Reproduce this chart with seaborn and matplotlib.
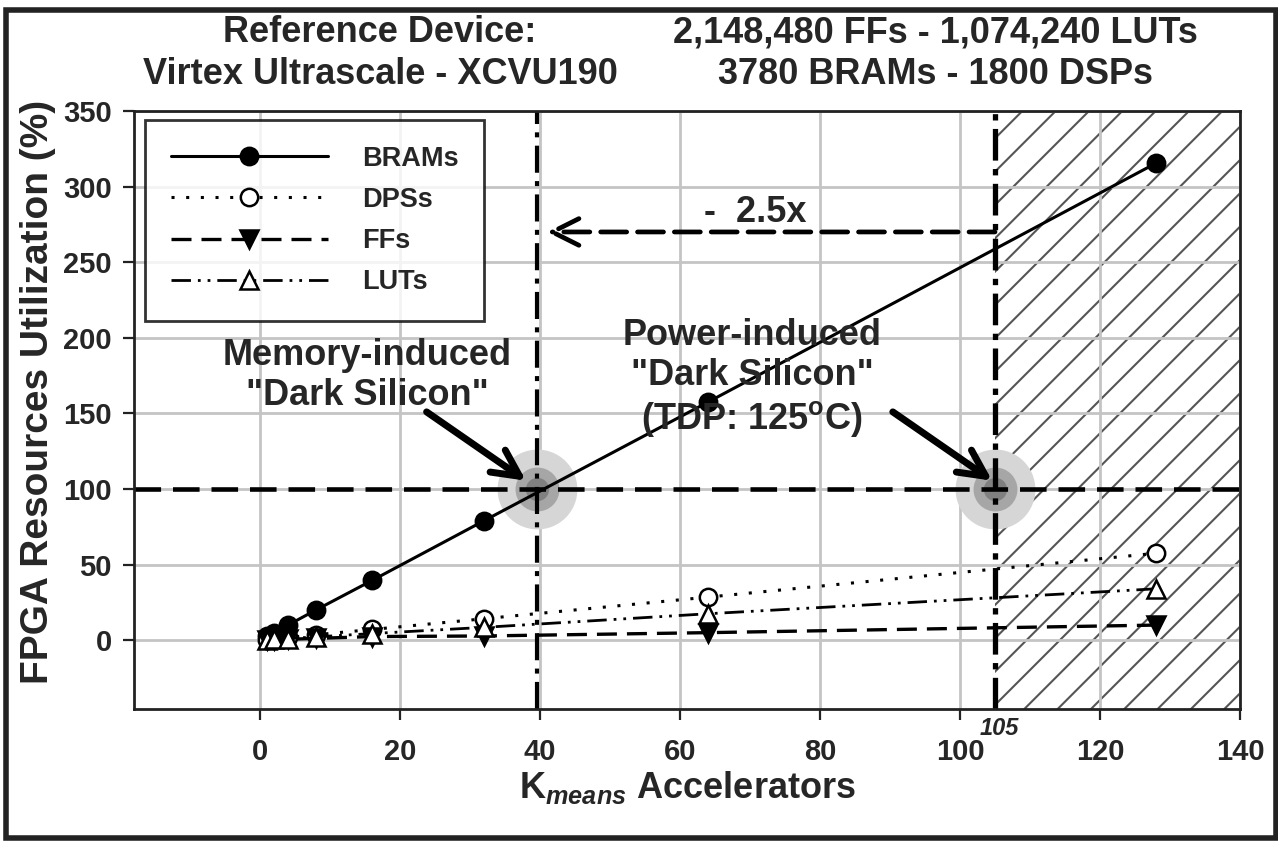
import numpy as np
import pandas as pd
import matplotlib
matplotlib.use("Agg")
import matplotlib.pyplot as plt
from matplotlib.patches import Rectangle
import seaborn as sns

# ---- data ----
accelerators = [1, 2, 4, 8, 16, 32, 64, 128]
brams = [2.5, 5, 10, 20, 39.5, 79, 157.5, 315.5]
dsps = [0.45, 0.9, 1.8, 3.6, 7.1, 14.2, 28.5, 57.5]
ffs = [0.15, 0.3, 0.6, 1.2, 2.4, 2.8, 5.0, 10]
luts = [0.3, 0.55, 1.1, 2.2, 4.4, 8.5, 17.5, 34]
series_names = ["BRAMs", "DPSs", "FFs", "LUTs"]
yticks = [0, 50, 100, 150, 200, 250, 300, 350]
xticks = [0, 20, 40, 60, 80, 100, 120, 140]

sns.set_style("ticks")
plt.rcParams["font.family"] = ["Liberation Sans", "DejaVu Sans"]
plt.rcParams["font.weight"] = "bold"
plt.rcParams["mathtext.fontset"] = "custom"
plt.rcParams["mathtext.rm"] = "Liberation Sans:bold"
plt.rcParams["mathtext.bf"] = "Liberation Sans:bold"
plt.rcParams["mathtext.it"] = "Liberation Sans:italic"
plt.rcParams["hatch.linewidth"] = 1.5

W, H = 1278, 844
fig = plt.figure(figsize=(W / 100, H / 100), dpi=100)
ax = fig.add_axes([134 / W, 1 - 709 / H, (1240 - 134) / W, (709 - 111) / H])

# grid
ax.set_axisbelow(True)
ax.grid(True, color="#c4c4c4", lw=2)

# hatched region (beyond power limit)
ax.axvspan(105, 140, facecolor="none", edgecolor="#555555", hatch="/", lw=0, zorder=0.5)

# glow spots
for xc in (39.6, 105):
    ax.scatter([xc], [100], s=3300, color="#d6d6d6", zorder=1, linewidths=0)
    ax.scatter([xc], [100], s=1000, color="#a6a6a6", zorder=1.1, linewidths=0)
    ax.scatter([xc], [100], s=280, color="#808080", zorder=1.2, linewidths=0)

# reference lines
ax.axhline(100, color="black", lw=3.3, linestyle=(0, (5.8, 2.6)), zorder=2)
ax.axvline(39.6, color="black", lw=3.0, linestyle=(0, (6.5, 2.0, 1.2, 2.0)), zorder=2)
ax.axvline(105, color="black", lw=3.8, linestyle=(0, (6, 1.6, 1.2, 1.6)), zorder=2)

styles = {
    "BRAMs": dict(linestyle="-", marker="o", markerfacecolor="black", lw=2.2),
    "DPSs": dict(linestyle=(0, (1, 3.8)), marker="o", markerfacecolor="white", lw=2.2),
    "FFs": dict(linestyle=(0, (6, 3)), marker="v", markerfacecolor="black", lw=2.4),
    "LUTs": dict(linestyle=(0, (7, 2.5, 1, 2.5, 1, 2.5)), marker="^", markerfacecolor="white", lw=2.0),
}
values = {"BRAMs": brams, "DPSs": dsps, "FFs": ffs, "LUTs": luts}
for name in series_names:
    st = styles[name]
    sns.lineplot(x=accelerators, y=values[name], ax=ax, color="black",
                 linestyle=st["linestyle"], lw=st["lw"], marker=st["marker"],
                 markersize=12.5, markerfacecolor=st["markerfacecolor"],
                 markeredgecolor="black", markeredgewidth=1.8,
                 label=name, zorder=3)

ax.set_xlim(-18, 140)
ax.set_ylim(-45.5, 350)
ax.set_xticks(xticks)
ax.set_yticks(yticks)
ax.tick_params(axis="both", direction="out", length=8, width=1.6, labelsize=21, color="#222")
ax.tick_params(axis="x", pad=13)
ax.tick_params(axis="y", pad=8)
for sp in ax.spines.values():
    sp.set_linewidth(2)
    sp.set_color("#222")

ax.set_xlabel(r"K$_{\mathit{means}}$ Accelerators", fontsize=26, fontweight="bold", labelpad=2)
ax.set_ylabel("FPGA Resources Utilization (%)", fontsize=28, fontweight="bold", labelpad=5, y=0.53)

leg = ax.legend(loc="upper left", bbox_to_anchor=(0.01, 0.985), fontsize=19.5,
                handlelength=5.8, handletextpad=1.25, labelspacing=0.56,
                borderpad=0.95, frameon=True, fancybox=False, numpoints=1,
                borderaxespad=0)
leg.get_frame().set_edgecolor("black")
leg.get_frame().set_linewidth(2)
for t in leg.get_texts():
    t.set_fontweight("bold")

# annotations
ax.annotate("", xy=(38.0, 105.5), xytext=(23.8, 151),
            arrowprops=dict(arrowstyle="->", lw=5, color="black", mutation_scale=48,
                            shrinkA=0, shrinkB=0), zorder=4)
ax.annotate("", xy=(104.6, 105.5), xytext=(90.4, 151),
            arrowprops=dict(arrowstyle="->", lw=5, color="black", mutation_scale=48,
                            shrinkA=0, shrinkB=0), zorder=4)
ax.annotate("", xy=(41.0, 270), xytext=(105, 270),
            arrowprops=dict(arrowstyle="->", lw=3.4, color="black", mutation_scale=48,
                            linestyle=(0, (5.5, 2.3)), shrinkA=0, shrinkB=0), zorder=4)
ax.text(70.8, 283, "-  2.5x", fontsize=26, fontweight="bold", ha="center", va="center")
ax.text(15.3, 175, "Memory-induced\n\"Dark Silicon\"", fontsize=26, fontweight="bold",
        ha="center", va="center", linespacing=1.2)
ax.text(70.3, 173, "Power-induced\n\"Dark Silicon\"\n(TDP: 125$^{\\mathrm{o}}$C)", fontsize=26,
        fontweight="bold", ha="center", va="center", linespacing=1.2)
ax.text(105.6, -0.032, "105", transform=ax.get_xaxis_transform(), fontsize=17,
        fontweight="bold", fontstyle="italic", ha="center", va="center")

# header
fig.text(380 / W, 1 - 33 / H, "Reference Device:", fontsize=26, fontweight="bold", ha="center", va="center")
fig.text(380 / W, 1 - 75 / H, "Virtex Ultrascale - XCVU190", fontsize=26, fontweight="bold", ha="center", va="center")
fig.text(935 / W, 1 - 33 / H, "2,148,480 FFs - 1,074,240 LUTs", fontsize=26, fontweight="bold", ha="center", va="center")
fig.text(935 / W, 1 - 75 / H, "3780 BRAMs - 1800 DSPs", fontsize=26, fontweight="bold", ha="center", va="center")

# outer frame
fig.add_artist(Rectangle((5.5 / W, 6 / H), (1275.5 - 5.5) / W, (834 - 6) / H,
                         transform=fig.transFigure, fill=False, edgecolor="#222", lw=4))

fig.savefig("out.png", dpi=100)
